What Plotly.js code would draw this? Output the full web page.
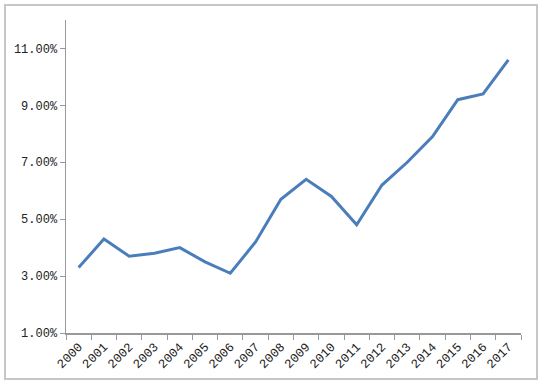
<!DOCTYPE html>
<html>
<head>
<meta charset="utf-8">
<script src="https://cdn.plot.ly/plotly-3.0.1.min.js"></script>
<style>
html,body{margin:0;padding:0;background:#fff;}
#chart{position:absolute;left:0;top:0;width:542px;height:383px;}
#frame{position:absolute;left:4px;top:4px;width:530px;height:372px;border:2px solid #c6c6c6;pointer-events:none;}
</style>
</head>
<body>
<div id="chart"></div>
<div id="frame"></div>
<script>
var years = ["2000","2001","2002","2003","2004","2005","2006","2007","2008","2009","2010","2011","2012","2013","2014","2015","2016","2017"];
var rates = [3.3,4.3,3.7,3.8,4.0,3.5,3.1,4.2,5.7,6.4,5.8,4.8,6.2,7.0,7.9,9.2,9.4,10.6];
var yTicks = [1,3,5,7,9,11];
var yTickText = ["1.00%","3.00%","5.00%","7.00%","9.00%","11.00%"];

var fontFam = "Liberation Mono, DejaVu Sans Mono, monospace";
Plotly.newPlot('chart', [{
  x: years, y: rates, type: 'scatter', mode: 'lines',
  line: {color: '#4a7ebb', width: 3}
}], {
  width: 542, height: 383,
  margin: {l: 66, r: 21, t: 20, b: 50},
  paper_bgcolor: '#fff', plot_bgcolor: '#fff',
  showlegend: false,
  xaxis: {
    type: 'category', range: [-0.5, 17.5], tickson: 'boundaries',
    ticks: 'outside', ticklen: 5, tickcolor: '#999', tickwidth: 1,
    showline: true, linecolor: '#999', linewidth: 1.5,
    showgrid: false, zeroline: false, tickangle: -45,
    tickfont: {family: fontFam, size: 12.5, color: '#222'}
  },
  yaxis: {
    range: [1, 12], tickvals: yTicks, ticktext: yTickText,
    ticks: 'outside', ticklen: 5, tickcolor: '#999', tickwidth: 1,
    showline: true, linecolor: '#999', linewidth: 1.5,
    showgrid: false, zeroline: false,
    tickfont: {family: fontFam, size: 12, color: '#222'}
  }
}, {displayModeBar: false, staticPlot: true});
</script>
</body>
</html>
